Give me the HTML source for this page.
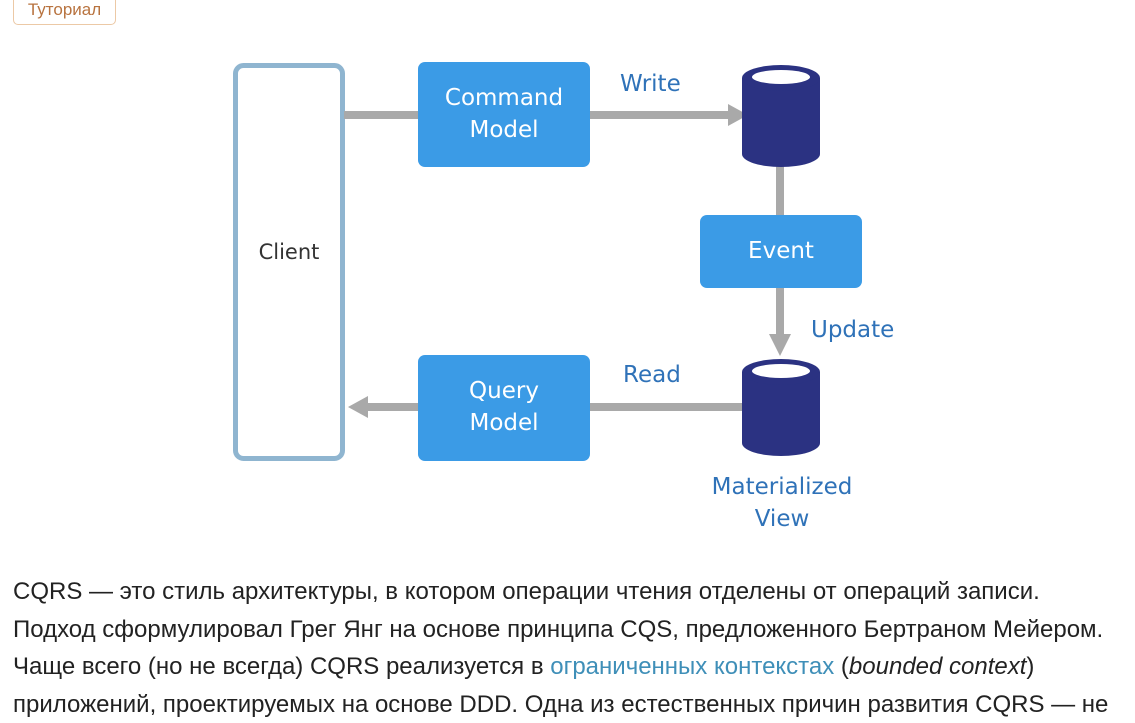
<!DOCTYPE html>
<html><head><meta charset="utf-8"><style>
body{margin:0;width:1135px;height:716px;overflow:hidden;background:#fff;position:relative;font-family:"Liberation Sans",sans-serif}
.badge{position:absolute;left:13px;top:-10px;width:101px;height:33px;border:1px solid #ecc9a6;border-radius:5px;color:#b8733f;font-size:17px;text-align:center;line-height:38px}
.p{position:absolute;left:13px;top:573px;font-size:24px;line-height:37.5px;color:#222;white-space:nowrap}
.p a{color:#3f8fb8;text-decoration:none}
</style></head><body>
<div class="badge">Туториал</div>
<svg width="1135" height="560" style="position:absolute;left:0;top:0" font-family="'DejaVu Sans','Liberation Sans',sans-serif">
<rect x="235.5" y="65.5" width="107" height="393" rx="8" fill="#fff" stroke="#8fb5d0" stroke-width="5"/>
<text x="289" y="259" font-size="21" fill="#333" text-anchor="middle">Client</text>
<rect x="344" y="111" width="390" height="8" fill="#a9a9a9"/>
<polygon points="728,104 748,115 728,126" fill="#a9a9a9"/>
<rect x="418" y="62" width="172" height="105" rx="7" fill="#3b9be6"/>
<text x="504" y="105" font-size="23" fill="#fff" text-anchor="middle">Command</text>
<text x="504" y="137" font-size="23" fill="#fff" text-anchor="middle">Model</text>
<text x="620" y="91" font-size="23" fill="#2f72b8">Write</text>
<rect x="776" y="160" width="8" height="60" fill="#a9a9a9"/>
<path d="M742,78 L742,154 A39,13 0 0 0 820,154 L820,78 Z" fill="#2b3282"/>
<ellipse cx="781" cy="78" rx="39" ry="13" fill="#2b3282"/>
<ellipse cx="781" cy="77" rx="29" ry="7" fill="#fff"/>
<rect x="700" y="215" width="162" height="73" rx="7" fill="#3b9be6"/>
<text x="781" y="258" font-size="23" fill="#fff" text-anchor="middle">Event</text>
<rect x="776" y="288" width="8" height="50" fill="#a9a9a9"/>
<polygon points="769,334 791,334 780,356" fill="#a9a9a9"/>
<text x="811" y="337" font-size="23" fill="#2f72b8">Update</text>
<rect x="362" y="403" width="385" height="8" fill="#a9a9a9"/>
<polygon points="368,396 348,407 368,418" fill="#a9a9a9"/>
<path d="M742,372 L742,443 A39,13 0 0 0 820,443 L820,372 Z" fill="#2b3282"/>
<ellipse cx="781" cy="372" rx="39" ry="13" fill="#2b3282"/>
<ellipse cx="781" cy="371" rx="29" ry="7" fill="#fff"/>
<rect x="418" y="355" width="172" height="106" rx="7" fill="#3b9be6"/>
<text x="504" y="398" font-size="23" fill="#fff" text-anchor="middle">Query</text>
<text x="504" y="430" font-size="23" fill="#fff" text-anchor="middle">Model</text>
<text x="623" y="382" font-size="23" fill="#2f72b8">Read</text>
<text x="782" y="494" font-size="23" fill="#2f72b8" text-anchor="middle">Materialized</text>
<text x="782" y="526" font-size="23" fill="#2f72b8" text-anchor="middle">View</text>
</svg>
<div class="p">CQRS — это стиль архитектуры, в котором операции чтения отделены от операций записи.<br>Подход сформулировал Грег Янг на основе принципа CQS, предложенного Бертраном Мейером.<br>Чаще всего (но не всегда) CQRS реализуется в <a>ограниченных контекстах</a> (<i>bounded context</i>)<br>приложений, проектируемых на основе DDD. Одна из естественных причин развития CQRS — не</div>
</body></html>
